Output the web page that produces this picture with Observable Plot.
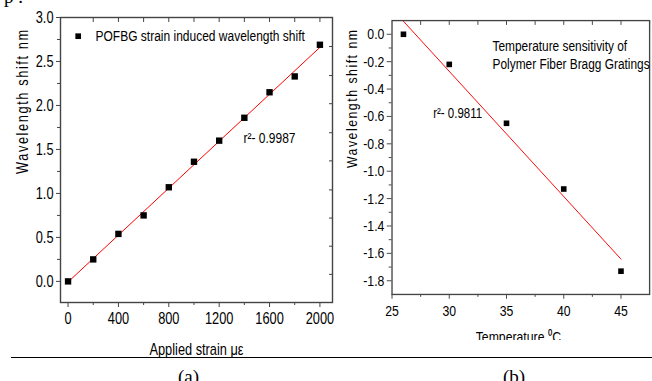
<!DOCTYPE html>
<html>
<head>
<meta charset="utf-8">
<script src="https://cdn.jsdelivr.net/npm/d3@7"></script>
<script src="https://cdn.jsdelivr.net/npm/@observablehq/plot@0.6"></script>
<style>
  html, body { margin: 0; padding: 0; background: #fff; }
  #fig { position: relative; width: 652px; height: 381px; overflow: hidden; background: #fff; }
  #left { position: absolute; left: 0; top: 0; }
  #right { position: absolute; left: 336px; top: 0; height: 355px; overflow: hidden; }
  .rule { position: absolute; left: 11px; top: 357px; width: 641px; border-top: 1.5px solid #000; }
  .cap { position: absolute; font-family: "Liberation Serif", "Times New Roman", serif; font-size: 19px; line-height: 1; color: #000; }
</style>
</head>
<body>
<div id="fig">
  <div class="cap" style="left:4px; top:-13px;">p .</div>
  <div id="left"></div>
  <div id="right"></div>
  <div class="rule"></div>
  <div class="cap" style="left:178px; top:367px;">(a)</div>
  <div class="cap" style="left:503px; top:367px;">(b)</div>
</div>
<script>
// ---- Panel (a): strain ----
const strainX = [0, 200, 400, 600, 800, 1000, 1200, 1400, 1600, 1800, 2000];
const strainShift = [0.0, 0.25, 0.54, 0.75, 1.07, 1.36, 1.60, 1.86, 2.15, 2.33, 2.69];
const strainFitX = [0, 2000];
const strainFitY = [-0.007, 2.661];
const strainTicks = [0, 400, 800, 1200, 1600, 2000];
const strainMinorTicks = [200, 600, 1000, 1400, 1800];
const strainTopTicks = [200, 400, 600, 800, 1000, 1200, 1400, 1600, 1800, 2000];
const shiftTicksA = [0.0, 0.5, 1.0, 1.5, 2.0, 2.5, 3.0];
const shiftMinorA = [0.25, 0.75, 1.25, 1.75, 2.25, 2.75];
const shiftRightTicksA = [0.08, 0.40, 0.72, 1.04, 1.37, 1.69, 2.02, 2.34, 2.67];
const legendA = "POFBG strain induced wavelength shift";
const r2A = "r²- 0.9987";
const xLabelA = "Applied strain με";
const yLabel = "Wavelength shift nm";

// ---- Panel (b): temperature ----
const tempX = [26, 30, 35, 40, 45];
const tempShift = [0.0, -0.22, -0.65, -1.13, -1.73];
const tempFitX = [26, 45];
const tempFitY = [0.095, -1.642];
const tempTicks = [25, 30, 35, 40, 45];
const tempMinorTicks = [27.5, 32.5, 37.5, 42.5];
const tempTopTicks = [27.5, 30, 32.5, 35, 37.5, 40, 42.5, 45, 47.5];
const shiftTicksB = [0.0, -0.2, -0.4, -0.6, -0.8, -1.0, -1.2, -1.4, -1.6, -1.8];
const shiftMinorB = [-0.1, -0.3, -0.5, -0.7, -0.9, -1.1, -1.3, -1.5, -1.7];
const noteB = "Temperature sensitivity of\nPolymer Fiber Bragg Gratings";
const r2B = "r²- 0.9811";
const xLabelB = "Temperature ⁰C";

const FONT = "'Liberation Sans', Arial, sans-serif";
const NARROW = 0.8;
const AX = "#444";
const fmt1 = d => d.toFixed(1);
const blank = () => "";

const strainPts = strainX.map((x, i) => ({x, y: strainShift[i]}));
const strainFit = strainFitX.map((x, i) => ({x, y: strainFitY[i]}));
const tempPts = tempX.map((x, i) => ({x, y: tempShift[i]}));
const tempFit = tempFitX.map((x, i) => ({x, y: tempFitY[i]}));

const left = Plot.plot({
  width: 340, height: 365,
  marginLeft: 60, marginRight: 8, marginTop: 17, marginBottom: 63,
  style: {fontFamily: FONT, fontSize: "16px", color: "#000", background: "transparent", overflow: "visible"},
  x: {domain: [-60, 2100]},
  y: {domain: [-0.24, 3.0]},
  marks: [
    Plot.axisX(strainTicks, {anchor: "bottom", tickSize: 5, tickPadding: 5, tickFormat: d => String(d), stroke: AX, fill: "#000", label: null}),
    Plot.axisX(strainMinorTicks, {anchor: "bottom", tickSize: 3, tickFormat: blank, stroke: AX, label: null}),
    Plot.axisX(strainTopTicks, {anchor: "top", tickSize: -4, tickFormat: blank, stroke: AX, label: null}),
    Plot.axisY(shiftTicksA, {anchor: "left", tickSize: 4, tickPadding: 3, tickFormat: fmt1, stroke: AX, fill: "#000", label: null}),
    Plot.axisY(shiftMinorA, {anchor: "left", tickSize: 3, tickFormat: blank, stroke: AX, label: null}),
    Plot.axisY(shiftRightTicksA, {anchor: "right", tickSize: -4, tickFormat: blank, stroke: AX, label: null}),
    Plot.frame({stroke: AX, strokeWidth: 1.4}),
    Plot.line(strainFit, {x: "x", y: "y", stroke: "#ff0000", strokeWidth: 1}),
    Plot.dot(strainPts, {x: "x", y: "y", symbol: "square", fill: "#000", stroke: "none", r: 3.6}),
    Plot.dot([legendA], {frameAnchor: "top-left", dx: 17.7, dy: 18.7, symbol: "square", fill: "#000", stroke: "none", r: 3.2}),
    Plot.text([legendA], {text: d => d, frameAnchor: "top-left", dx: 35, dy: 18.7, textAnchor: "start", lineAnchor: "middle", fontSize: 15, fill: "#000"}),
    Plot.text([r2A], {text: d => d, frameAnchor: "top-left", dx: 183, dy: 121, textAnchor: "start", lineAnchor: "middle", fontSize: 15, fill: "#000"}),
    Plot.text([xLabelA], {text: d => d, frameAnchor: "bottom", dy: 47, lineAnchor: "middle", fontSize: 16, fill: "#000"}),
    Plot.text([yLabel], {text: d => d, frameAnchor: "left", dx: -38, dy: 14, rotate: -90, lineAnchor: "middle", fontSize: 16, fill: "#000"})
  ]
});

const right = Plot.plot({
  width: 330, height: 355,
  marginLeft: 58, marginRight: 3, marginTop: 21, marginBottom: 48,
  style: {fontFamily: FONT, fontSize: "16px", color: "#000", background: "transparent", overflow: "hidden"},
  x: {domain: [25, 47.5]},
  y: {domain: [-1.9, 0.1]},
  marks: [
    Plot.axisX(tempTicks, {anchor: "bottom", tickSize: 5, tickPadding: 6, tickFormat: d => String(d), stroke: AX, fill: "#000", label: null}),
    Plot.axisX(tempMinorTicks, {anchor: "bottom", tickSize: 3, tickFormat: blank, stroke: AX, label: null}),
    Plot.axisX(tempTopTicks, {anchor: "top", tickSize: -4, tickFormat: blank, stroke: AX, label: null}),
    Plot.axisY(shiftTicksB, {anchor: "left", tickSize: 5, tickPadding: 3, tickFormat: fmt1, stroke: AX, fill: "#000", label: null}),
    Plot.axisY(shiftMinorB, {anchor: "left", tickSize: 3, tickFormat: blank, stroke: AX, label: null}),
    Plot.frame({stroke: AX, strokeWidth: 1.4}),
    Plot.line(tempFit, {x: "x", y: "y", stroke: "#ff0000", strokeWidth: 1, clip: true}),
    Plot.dot(tempPts, {x: "x", y: "y", symbol: "square", fill: "#000", stroke: "none", r: 3.3}),
    Plot.text([noteB], {text: d => d, frameAnchor: "top-left", dx: 105, dy: 35.2, textAnchor: "start", lineAnchor: "middle", lineHeight: 1.22, fontSize: 15.5, fill: "#000"}),
    Plot.text([r2B], {text: d => d, frameAnchor: "top-left", dx: 43, dy: 97, textAnchor: "start", lineAnchor: "middle", fontSize: 15, fill: "#000"}),
    Plot.text([xLabelB], {text: d => d, frameAnchor: "bottom", dx: -2.5, dy: 45, lineAnchor: "middle", fontSize: 16, fill: "#000"}),
    Plot.text([yLabel], {text: d => d, frameAnchor: "left", dx: -42, dy: 11, rotate: -90, lineAnchor: "middle", fontSize: 16, fill: "#000"})
  ]
});

document.getElementById("left").appendChild(left);
document.getElementById("right").appendChild(right);

// Narrow (condensed) lettering like the original: scale each text horizontally about its own anchor
for (const svg of [left, right]) {
  d3.select(svg).selectAll("text").each(function() {
    const el = d3.select(this);
    let x = parseFloat(this.getAttribute("x"));
    if (!isFinite(x)) x = 0;
    const t = this.getAttribute("transform") || "";
    el.attr("transform", `${t} translate(${x},0) scale(${NARROW},1) translate(${-x},0)`);
    if (this.textContent === yLabel) el.style("letter-spacing", "2px");
  });
}
</script>
</body>
</html>
